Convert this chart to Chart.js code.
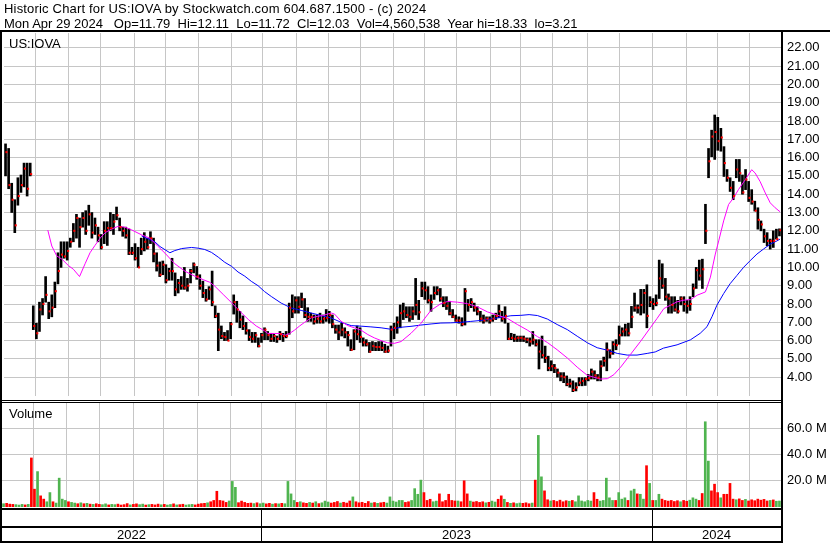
<!DOCTYPE html>
<html><head><meta charset="utf-8">
<script src="https://cdn.jsdelivr.net/npm/chart.js@4.4.1/dist/chart.umd.min.js"></script>
<style>
html,body{margin:0;padding:0;background:#fff;}
#wrap{position:relative;width:830px;height:543px;overflow:hidden;background:#fff;}
canvas{position:absolute;left:0;}
.t{position:absolute;font-family:"Liberation Sans",Arial,sans-serif;font-size:13px;color:#000;white-space:pre;line-height:13px;}
</style></head><body>
<div id="wrap">
<canvas id="cp" width="830" height="400" style="top:0;width:830px;height:400px"></canvas>
<canvas id="cv" width="830" height="143" style="top:400px;width:830px;height:143px"></canvas>
<div class="t" style="left:4px;top:2px;letter-spacing:0.18px">Historic Chart for US:IOVA by Stockwatch.com 604.687.1500 - (c) 2024</div>
<div class="t" style="left:4px;top:17px">Mon Apr 29 2024   Op=11.79  Hi=12.11  Lo=11.72  Cl=12.03  Vol=4,560,538  Year hi=18.33  lo=3.21</div>
<div class="t" style="left:9px;top:37px">US:IOVA</div>
<div class="t" style="left:9px;top:407px">Volume</div>
</div>
<script>
// ---- data (one bar ~ two trading days, May 2022 .. Apr 29 2024) ----
const highs = [16.75,16.5,14.6,13.7,14.9,15.05,15.7,15.7,15.7,7.9,
6.95,8.1,8.3,9.5,8.1,8.5,9.2,10.8,11.4,11.4,
11.4,11.6,12.4,12.9,12.7,13.0,13.1,13.4,13.0,12.7,
12.2,11.8,12.5,12.5,13.0,12.9,13.3,12.7,12.2,12.2,
12.1,11.1,11.3,11.1,11.6,11.9,11.6,11.95,11.6,10.8,
10.3,10.35,10.15,9.95,10.5,9.7,9.35,9.5,10.0,9.4,
9.9,10.25,10.05,9.6,9.25,8.8,8.95,9.8,7.9,7.5,
6.8,6.45,6.55,7.0,8.5,8.15,7.6,7.35,7.0,6.6,
6.45,6.45,6.15,6.4,6.7,6.5,6.4,6.35,6.25,6.5,
6.4,6.5,8.05,8.5,8.4,8.4,8.6,8.3,7.8,7.5,
7.4,7.4,7.5,7.4,7.7,7.6,7.4,6.85,6.85,6.95,
6.7,6.5,6.05,6.6,6.8,6.7,6.15,6.05,5.9,5.95,
5.9,5.95,5.95,5.8,5.7,6.8,6.95,7.3,7.95,8.05,
7.85,7.85,7.85,9.4,8.2,9.2,9.2,8.95,8.5,8.95,
8.95,8.85,8.4,8.4,8.15,7.7,7.4,7.3,7.25,8.85,
8.25,8.3,8.05,7.85,7.6,7.4,7.3,7.3,7.4,7.5,
7.95,7.6,7.85,6.95,6.4,6.35,6.25,6.25,6.25,6.15,
6.15,6.5,6.05,6.05,6.25,5.7,5.15,4.9,4.7,4.45,
4.25,4.25,4.07,3.9,3.8,3.7,3.98,3.98,3.98,4.15,
4.45,4.35,4.15,4.9,5.1,5.88,5.5,5.95,6.05,6.8,
6.7,6.9,6.95,7.87,8.6,7.95,8.8,8.8,9.05,8.4,
8.3,8.5,10.4,10.2,9.4,8.55,8.4,8.4,8.2,8.4,
8.4,8.2,8.4,9.1,10.0,10.4,10.45,13.45,16.5,17.5,
18.33,18.2,17.6,16.6,15.35,14.9,14.7,15.9,15.9,15.05,
15.35,14.7,14.25,13.62,13.26,12.54,12.09,11.9,11.55,12.0,
12.09,12.11];
const lows = [15.0,14.3,13.0,11.9,13.4,14.1,14.4,13.9,15.0,6.6,
6.1,6.5,7.4,8.1,7.2,7.3,7.8,9.1,10.0,10.5,
10.4,11.1,11.4,11.6,11.1,12.2,11.8,12.3,11.6,11.8,
11.4,11.0,11.3,11.2,12.0,11.8,12.6,12.0,11.7,11.6,
10.7,10.7,10.4,10.0,10.7,10.9,11.0,11.3,10.3,9.8,
9.5,9.6,9.15,9.3,9.3,8.45,8.6,8.8,8.8,8.7,
9.15,9.7,9.35,8.8,8.35,8.15,8.25,7.9,7.25,5.45,
6.1,6.0,6.0,6.1,7.45,7.0,6.7,6.6,6.35,6.0,
5.9,5.9,5.65,5.9,6.05,6.05,5.95,5.95,5.9,6.05,
5.95,6.15,6.35,7.25,7.5,7.5,7.8,7.25,7.05,7.05,
6.9,6.95,6.95,6.95,7.05,6.95,6.7,6.4,6.05,6.25,
6.15,5.7,5.45,5.5,6.05,5.9,5.7,5.7,5.35,5.45,
5.45,5.45,5.45,5.35,5.35,5.7,6.1,6.4,6.7,7.15,
7.25,7.05,7.15,7.4,7.15,8.4,8.25,8.05,7.6,8.25,
8.5,8.15,7.85,7.7,7.4,7.25,7.05,6.95,6.8,6.85,
7.6,7.8,7.6,7.4,7.05,6.95,7.05,6.95,7.05,7.15,
7.25,7.05,6.95,6.05,6.05,5.95,5.95,5.95,5.95,5.88,
5.7,5.8,5.7,4.45,5.05,4.8,4.35,4.35,4.25,4.0,
3.8,3.7,3.53,3.45,3.21,3.25,3.53,3.53,3.55,3.8,
3.9,3.9,3.8,3.8,4.6,4.35,5.05,5.25,5.5,5.8,
6.25,6.25,6.25,6.7,7.6,7.5,7.4,7.5,6.7,7.85,
7.7,7.9,8.3,8.85,8.2,7.5,7.5,7.6,7.5,7.95,
7.6,7.5,7.65,8.4,8.85,9.3,8.85,11.3,14.9,16.05,
15.9,16.4,16.35,14.97,14.7,14.15,13.7,14.9,14.7,14.0,
14.25,13.6,13.45,13.08,12.09,12.0,11.36,11.18,11.0,11.09,
11.55,11.72];
const closes = [16.3,14.5,13.7,12.3,13.9,14.5,15.4,14.3,15.1,6.8,
6.4,7.7,8.0,8.5,7.6,7.8,8.7,9.8,10.7,10.6,
10.9,11.4,12.0,12.7,12.2,12.7,12.0,12.9,11.9,12.3,
11.75,11.1,12.0,12.15,12.15,12.5,12.85,12.2,12.0,11.75,
10.8,10.8,10.5,10.0,11.0,11.4,11.1,11.6,10.75,10.1,
9.6,10.15,9.3,9.8,9.8,8.8,9.15,9.0,8.9,9.0,
9.8,10.15,9.5,9.0,8.6,8.25,8.8,8.1,7.35,6.6,
6.25,6.2,6.0,6.9,8.1,7.7,7.15,6.8,6.55,6.2,
6.1,6.3,5.7,6.3,6.6,6.3,6.1,6.25,6.1,6.35,
6.25,6.25,7.8,7.6,8.2,7.85,8.25,7.4,7.3,7.3,
7.05,7.2,7.05,7.2,7.25,7.4,6.9,6.6,6.45,6.6,
6.45,6.3,5.5,6.5,6.35,6.2,5.9,5.8,5.4,5.7,
5.65,5.65,5.6,5.4,5.45,6.6,6.7,7.0,7.5,7.6,
7.4,7.3,7.6,7.95,7.55,8.85,8.75,8.2,8.1,8.6,
8.75,8.3,8.05,7.9,7.5,7.3,7.1,7.1,6.9,8.7,
7.95,8.1,7.8,7.6,7.2,7.1,7.2,7.1,7.2,7.35,
7.6,7.2,7.35,6.1,6.15,6.1,6.15,6.15,6.1,6.05,
5.95,6.05,5.8,5.4,5.2,5.05,4.5,4.6,4.5,4.25,
4.05,4.0,3.62,3.65,3.3,3.44,3.7,3.8,3.9,3.95,
4.3,4.1,3.98,4.6,4.9,5.5,5.3,5.8,5.75,6.3,
6.5,6.6,6.4,7.3,7.8,7.8,7.95,8.6,7.35,8.1,
8.0,8.05,9.4,9.0,8.4,8.3,7.95,7.7,7.6,8.3,
8.0,7.9,8.0,8.85,9.85,9.55,9.9,12.0,15.8,17.15,
17.4,16.9,17.1,15.7,14.9,14.35,13.9,15.35,15.15,14.1,
14.8,13.8,13.6,13.1,12.6,12.35,11.7,11.45,11.45,11.45,
11.55,12.03];
// volume in millions of shares
const volumes = [2.5,2.8,2.2,2.0,1.8,1.5,2.0,1.6,2.0,37.4,
13.6,27.0,8.5,6.0,4.0,11.0,4.0,3.0,22.0,6.0,
5.0,4.0,3.5,3.0,2.5,3.2,2.5,2.8,2.2,2.0,
2.5,2.0,1.8,2.4,1.6,2.0,1.8,2.2,1.5,1.8,
2.6,1.6,2.0,2.4,1.8,2.2,1.5,1.8,2.0,1.6,
2.2,1.7,2.0,1.5,1.9,2.4,1.6,1.8,2.1,1.5,
1.8,2.0,1.6,2.2,2.6,2.8,3.2,4.0,5.0,12.0,
5.0,4.6,3.5,4.6,19.5,15.0,3.3,4.5,3.5,2.8,
3.0,2.6,3.2,2.5,3.0,2.4,2.8,2.2,2.6,2.4,
2.8,2.5,19.5,10.0,5.0,3.5,4.0,3.2,2.8,3.5,
3.0,4.0,2.6,3.2,4.5,3.8,3.0,3.5,4.2,3.0,
3.6,3.0,4.6,7.7,4.0,3.2,3.6,2.8,4.2,3.0,
3.4,2.8,3.2,3.6,3.0,7.7,4.5,3.8,5.0,5.0,
3.5,4.0,5.0,14.0,9.7,20.5,11.0,5.0,5.9,4.0,
4.5,10.0,4.0,5.0,9.7,5.0,4.6,4.6,4.0,20.0,
10.0,4.5,3.8,4.2,3.5,4.0,3.2,3.6,4.5,3.8,
5.9,8.5,5.9,3.5,2.8,3.2,2.6,3.0,2.8,3.2,
2.5,3.0,20.5,54.6,23.0,12.3,5.5,4.6,5.0,4.2,
5.2,4.0,4.8,4.4,5.0,4.0,8.5,4.6,4.0,5.0,
4.5,11.0,5.9,4.5,5.0,22.0,7.0,5.0,5.0,11.0,
6.0,7.0,5.0,12.3,13.6,10.0,9.7,6.0,31.5,18.0,
5.0,5.0,9.7,6.0,5.0,4.5,5.0,4.2,4.8,4.0,
5.0,4.4,5.2,7.0,6.0,5.0,10.3,65.0,35.0,12.3,
17.4,11.0,7.0,9.7,9.7,18.0,6.0,5.5,6.2,5.0,
5.8,4.6,5.5,4.8,6.0,5.2,5.8,4.6,5.0,5.4,
4.4,4.56];
// 1 = up-volume bar, 0 = down-volume bar
const volUp = [1,0,0,0,1,1,1,0,1,0, 0,1,0,0,1,1,0,1,1,1, 1,0,1,1,0,1,0,1,0,1, 0,0,1,1,0,1,1,0,0,0,
0,1,0,0,1,1,0,1,0,0, 0,1,0,1,1,0,1,0,0,1, 1,1,0,0,0,0,1,0,0,0, 0,0,0,1,1,1,0,0,0,0,
0,1,0,1,1,0,0,1,0,1, 0,1,1,1,1,0,1,0,0,1, 0,1,0,1,1,1,0,0,0,1, 0,0,0,1,0,0,0,0,0,1,
0,1,0,0,1,1,1,1,1,1, 0,0,1,1,1,1,0,0,0,1, 1,0,0,0,0,0,0,1,0,0, 0,1,0,0,0,0,1,0,1,1,
0,0,1,0,1,0,1,1,0,0, 0,1,0,1,1,0,0,1,0,0, 0,0,0,1,0,1,1,1,1,1, 1,0,0,1,1,1,1,1,0,1,
1,1,0,1,1,0,1,1,0,1, 0,1,1,0,0,0,0,0,0,1, 0,0,1,1,1,0,0,1,1,0, 0,0,1,0,0,0,0,1,0,0,
1,0,0,0,0,0,0,0,1,0, 1,1];
// moving averages: position (bar units) and value
const maFastPos = [14.2,15.5,17.1,18.8,20.9,22.5,24.5,26.3,27.9,29.5,31.2,32.8,34.9,37.1,39.2,41.4,44.6,47.3,50.0,52.2,55.4,58.7,61.9,64.6,66.7,68.4,71.1,73.8,76.4,79.2,81.8,84.5,85.6,87.8,89.9,91.0,92.6,94.2,95.8,97.5,99.6,101.8,103.4,106.1,107.2,109.3,111.5,113.6,115.8,118.0,120.1,122.3,124.4,126.6,128.8,132.0,135.2,138.5,141.7,143.9,147.1,150.3,153.6,156.8,160.0,163.3,166.5,169.7,173.0,176.2,179.4,182.7,185.9,189.2,191.3,193.5,195.7,197.8,200.0,203.2,206.5,209.7,211.8,214.0,216.2,218.3,220.5,222.7,224.8,227.5,229.1,230.7,231.8,233.4,235.0,236.6,238.2,240.4,242.5,243.6,245.2,246.9,248.5,250.1,251.7];
const maFastVal = [12.04,11.17,10.63,10.45,10.1,9.9,9.5,10.2,10.8,11.2,11.6,11.9,12.1,12.25,12.2,12.05,11.78,11.6,11.14,10.78,10.2,9.79,9.52,9.33,9.19,8.97,8.52,8.07,7.62,7.16,6.8,6.53,6.39,6.39,6.39,6.28,6.39,6.57,6.79,7.0,7.24,7.33,7.37,7.51,7.45,7.06,6.82,6.7,6.57,6.33,6.15,6.0,5.88,5.85,5.95,6.4,6.94,7.66,8.02,8.14,8.1,8.02,7.84,7.57,7.39,7.21,6.88,6.58,6.22,5.9,5.5,5.05,4.55,4.1,4.0,3.9,3.92,4.14,4.55,5.25,5.97,6.72,7.21,7.75,7.94,8.12,8.21,8.24,8.48,8.66,9.47,10.73,11.45,12.54,13.44,13.8,14.25,14.79,15.34,15.16,14.7,14.07,13.53,13.26,13.04];
const maSlowPos = [44.6,48.9,50.6,53.8,55.4,57.6,60.8,63.0,65.1,67.3,69.5,71.6,73.8,75.9,78.1,80.2,82.4,84.5,86.7,89.9,93.2,96.4,99.6,102.9,106.1,109.3,112.6,115.8,119.0,122.3,125.5,128.8,132.0,135.2,138.5,141.7,144.9,148.2,151.4,154.6,157.9,161.1,164.4,167.6,170.3,173.0,176.2,179.4,182.7,185.9,189.2,192.4,195.6,198.9,202.1,205.3,208.6,211.2,213.9,218.3,222.6,225.8,228.0,229.6,231.2,233.4,235.5,237.7,239.9,242.0,244.2,246.3,248.5,250.7,251.7];
const maSlowVal = [11.72,11.4,11.14,10.8,10.92,11.03,11.09,11.05,10.98,10.82,10.56,10.28,10.06,9.75,9.52,9.24,9.0,8.68,8.41,8.05,7.78,7.65,7.51,7.37,7.24,7.0,6.82,6.79,6.75,6.7,6.62,6.73,6.78,6.85,6.91,6.96,6.97,7.0,7.05,7.1,7.18,7.27,7.36,7.38,7.42,7.37,7.18,6.88,6.6,6.24,5.88,5.61,5.48,5.3,5.21,5.21,5.3,5.38,5.59,5.77,6.04,6.4,6.76,7.3,7.93,8.57,9.11,9.56,10.01,10.37,10.73,11.0,11.27,11.45,11.55];
// month-start positions (bar units) and year boundaries
const monthStarts = [10.35,21.0,31.4,42.4,52.4,63.1,73.8,83.8,94.8,105.1,115.5,126.2,136.5,146.6,157.9,167.6,177.9,189.3,199.6,210.3,221.3,231.3,241.7];
const yearStarts = [83.8,210.3];
const yearLabels = ['2022','2023','2024'];
const priceTicks = [4,5,6,7,8,9,10,11,12,13,14,15,16,17,18,19,20,21,22];
const volTicks = [20,40,60];

// ---- drawing ----
const GRID = '#c6c6c6';
const FONT = {family:"'Liberation Sans', Arial, sans-serif", size:13};
const XMIN = 0, XMAX = highs.length;

function xScale(){
  return {type:'linear', min:XMIN, max:XMAX, offset:false,
    afterBuildTicks:s=>{s.ticks = monthStarts.map(v=>({value:v}));},
    afterFit:s=>{s.height=0; s.paddingLeft=0; s.paddingRight=0;},
    ticks:{display:false}, grid:{color:GRID, lineWidth:1, drawTicks:false, offset:false}, border:{display:false}};
}
function yScale(min,max,ticks,fmt){
  return {position:'right', min:min, max:max,
    afterBuildTicks:s=>{s.ticks = ticks.map(v=>({value:v}));},
    afterFit:s=>{s.width=49; s.paddingTop=0; s.paddingBottom=0;},
    ticks:{callback:fmt, font:FONT, color:'#000', padding:6, autoSkip:false},
    grid:{color:GRID, lineWidth:1, drawTicks:false}, border:{display:false}};
}

const priceFrame = {id:'priceFrame', afterDraw(c){
  const g=c.ctx; g.save(); g.fillStyle='#000';
  g.fillRect(0,30,830,2);
  g.fillRect(0,32,2,368);
  g.fillRect(781,32,2,368);
  g.restore();
}};
const volFrame = {id:'volFrame', afterDraw(c){
  const g=c.ctx, xs=c.scales.x; g.save(); g.fillStyle='#000';
  g.fillRect(0,0,783,1); g.fillRect(0,2,783,1);
  g.fillRect(0,0,2,143); g.fillRect(781,0,2,143);
  g.fillRect(0,108,783,2); g.fillRect(0,126,783,2); g.fillRect(0,141,783,2);
  yearStarts.forEach(v=>{ g.fillRect(Math.round(xs.getPixelForValue(v)),110,1,31); });
  const b=[XMIN].concat(yearStarts,[XMAX]);
  g.font="13px 'Liberation Sans', Arial, sans-serif"; g.textAlign='center'; g.textBaseline='middle';
  yearLabels.forEach((t,i)=>{ g.fillText(t,(xs.getPixelForValue(b[i])+xs.getPixelForValue(b[i+1]))/2,135); });
  g.restore();
}};

new Chart(document.getElementById('cp'), {
  type:'bar',
  data:{datasets:[
    {type:'line', data:closes.map((c,i)=>({x:i+0.8,y:c})), showLine:false, pointStyle:'rect', pointRadius:1.45, pointBackgroundColor:'#ff0000', pointBorderWidth:0, order:1},
    {type:'line', data:maFastPos.map((p,i)=>({x:p,y:maFastVal[i]})), borderColor:'#ff00ff', borderWidth:1, pointRadius:0, tension:0, order:2},
    {type:'line', data:maSlowPos.map((p,i)=>({x:p,y:maSlowVal[i]})), borderColor:'#0000ff', borderWidth:1, pointRadius:0, tension:0, order:3},
    {type:'bar', data:highs.map((h,i)=>({x:i+0.5,y:[lows[i],h]})), backgroundColor:'#000000', barThickness:2, grouped:false, order:4}
  ]},
  options:{responsive:false, animation:false, events:[],
    layout:{padding:{left:2,top:33,right:0,bottom:0}},
    plugins:{legend:{display:false}, tooltip:{enabled:false}},
    scales:{x:xScale(), y:yScale(2.973,22.81,priceTicks,v=>Number(v).toFixed(2))}},
  plugins:[priceFrame]
});

new Chart(document.getElementById('cv'), {
  type:'bar',
  data:{datasets:[
    {data:volumes.map((v,i)=>({x:i+0.5,y:v})), backgroundColor:volUp.map(u=>u?'#4fb44f':'#ff0000'), barThickness:2, grouped:false}
  ]},
  options:{responsive:false, animation:false, events:[],
    layout:{padding:{left:2,top:3,right:0,bottom:36}},
    plugins:{legend:{display:false}, tooltip:{enabled:false}},
    scales:{x:xScale(), y:yScale(0,79.3,volTicks,v=>Number(v).toFixed(1)+' M')}},
  plugins:[volFrame]
});
</script>
</body></html>
